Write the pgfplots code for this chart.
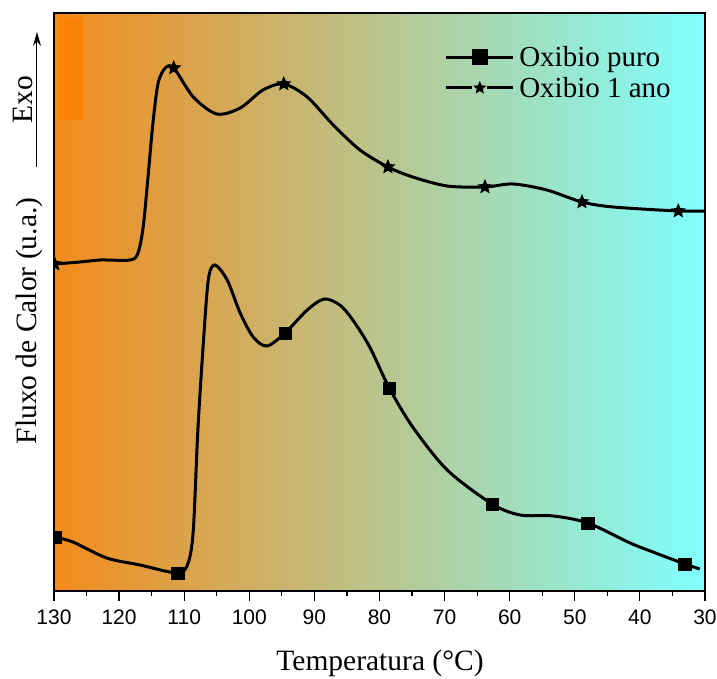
\documentclass[border=0pt]{standalone}
\usepackage{fontspec}
\setmainfont{Liberation Serif}
\newfontfamily\ticksans{Liberation Sans}
\usepackage{pgfplots}
\pgfplotsset{compat=1.18}
\usetikzlibrary{calc,arrows.meta}

\definecolor{bgleft}{RGB}{243,139,28}
\definecolor{bgright}{RGB}{128,255,255}
\definecolor{hotspot}{RGB}{255,128,0}

% filled five-point star, outer radius = mark size
\pgfdeclareplotmark{fstar}{%
  \pgfpathmoveto{\pgfqpointpolar{90}{\pgfplotmarksize}}%
  \pgfpathlineto{\pgfqpointpolar{126}{0.45\pgfplotmarksize}}%
  \pgfpathlineto{\pgfqpointpolar{162}{\pgfplotmarksize}}%
  \pgfpathlineto{\pgfqpointpolar{198}{0.45\pgfplotmarksize}}%
  \pgfpathlineto{\pgfqpointpolar{234}{\pgfplotmarksize}}%
  \pgfpathlineto{\pgfqpointpolar{270}{0.45\pgfplotmarksize}}%
  \pgfpathlineto{\pgfqpointpolar{306}{\pgfplotmarksize}}%
  \pgfpathlineto{\pgfqpointpolar{342}{0.45\pgfplotmarksize}}%
  \pgfpathlineto{\pgfqpointpolar{18}{\pgfplotmarksize}}%
  \pgfpathlineto{\pgfqpointpolar{54}{0.45\pgfplotmarksize}}%
  \pgfpathclose
  \pgfusepathqfill}

\begin{document}
\begin{tikzpicture}
\begin{axis}[
  name=ax,
  scale only axis,
  width=651bp, height=578bp,
  x dir=reverse,
  xmin=30, xmax=130, ymin=0, ymax=578,
  xtick={30,40,...,130},
  minor x tick num=1,
  xtick pos=bottom,
  ytick=\empty,
  tick align=outside,
  major tick length=10bp, minor tick length=5bp,
  tick style={black, line width=1.2bp},
  axis line style={line width=1.3bp},
  clip marker paths=true,
  /pgf/number format/assume math mode=true,
  xticklabel style={font=\ticksans\fontsize{21bp}{24bp}\selectfont, yshift=-5bp},
  axis background/.style={left color=bgleft, right color=bgright},
  legend style={draw=none, fill=none, at={(rel axis cs:0.600,0.945)},
    anchor=north west, inner sep=0pt, row sep=6bp,
    font=\fontsize{29bp}{31bp}\selectfont, nodes={inner sep=1.5bp}},
  legend cell align=left,
  legend image code/.code={%
    \draw[#1, mark=none] (0bp,0bp) -- (26bp,0bp) (41bp,0bp) -- (67bp,0bp);
    \path[#1] plot coordinates {(33.5bp,0bp)};
    \path (70bp,0bp);},
]
% small bright patch top left
\fill[hotspot, opacity=0.75] (axis cs:129.4,471) rectangle (axis cs:125.5,574);

% Oxibio 1 ano
\addplot[black, line width=3bp, smooth, tension=0.5, forget plot] coordinates {
  (129.9,327)(126,329)(122.9,331)(118.3,331)(117.1,338)(116.3,364)(115.6,411)
  (114.8,468)(114.0,508)(112.9,523)(111.6,523)(108.6,494)(105.0,477)(101.4,483)
  (97.9,501)(94.7,507)(91.1,494)(87.1,466)(83.0,441)(78.7,424)(74.9,414)
  (69.6,405)(63.8,404)(59.5,407)(54.3,401)(48.9,389)(44.1,384)(34.1,380)(30,380)
};
\addplot[only marks, mark=fstar, mark size=8bp, black, forget plot] coordinates {
  (129.9,327)(111.6,523)(94.7,507)(78.7,424)(63.8,404)(48.9,389)(34.1,380)
};

% Oxibio puro
\addplot[black, line width=3bp, smooth, tension=0.5, forget plot] coordinates {
  (129.9,54)(127.1,49)(121.9,33)(116.8,26)(111.0,18)(109.4,28)(108.6,61)
  (107.9,161)(107.1,244)(106.3,311)(105.3,326)(103.4,311)(101.4,278)(99.4,254)
  (97.3,245)(94.5,258)(91.1,281)(88.5,292)(86.1,286)(84.1,271)(81.5,244)
  (78.5,203)(74.9,164)(69.6,121)(62.7,87)(58.4,76)(53.3,75)(48.0,68)
  (41.5,48)(38.0,39)(33.1,27)(30.8,22)
};
\addplot[only marks, mark=square*, mark size=6.2bp, black, forget plot] coordinates {
  (129.9,54)(111.0,18)(94.5,258)(78.5,203)(62.7,87)(48.0,68)(33.1,27)
};

\addlegendimage{black, line width=3bp, mark=square*, mark size=6.5bp}
\addlegendentry{Oxibio puro}
\addlegendimage{black, line width=3bp, mark=fstar, mark size=7bp}
\addlegendentry{Oxibio 1 ano}
\end{axis}

% labels, in pixel units of the reference (origin top left)
\begin{scope}[shift={($(ax.south west)+(-54bp,591bp)$)}, x=1bp, y=-1bp]
  \node[anchor=base, font=\fontsize{29.5bp}{31bp}\selectfont] at (380,671)
    {Temperatura (°C)};
  \node[anchor=base, rotate=90, font=\fontsize{29.5bp}{31bp}\selectfont] at (37,321)
    {Fluxo de Calor (u.a.)};
  \node[anchor=base, rotate=90, font=\fontsize{29.5bp}{31bp}\selectfont] at (33,100)
    {Exo};
  \draw[line width=1bp, -{Stealth[length=14bp,width=8bp]}] (37,167) -- (37,32);
\end{scope}

\pgfresetboundingbox
\path[use as bounding box] ($(ax.south west)+(-54bp,-88bp)$)
  rectangle ($(ax.north east)+(12bp,13bp)$);
\end{tikzpicture}
\end{document}
